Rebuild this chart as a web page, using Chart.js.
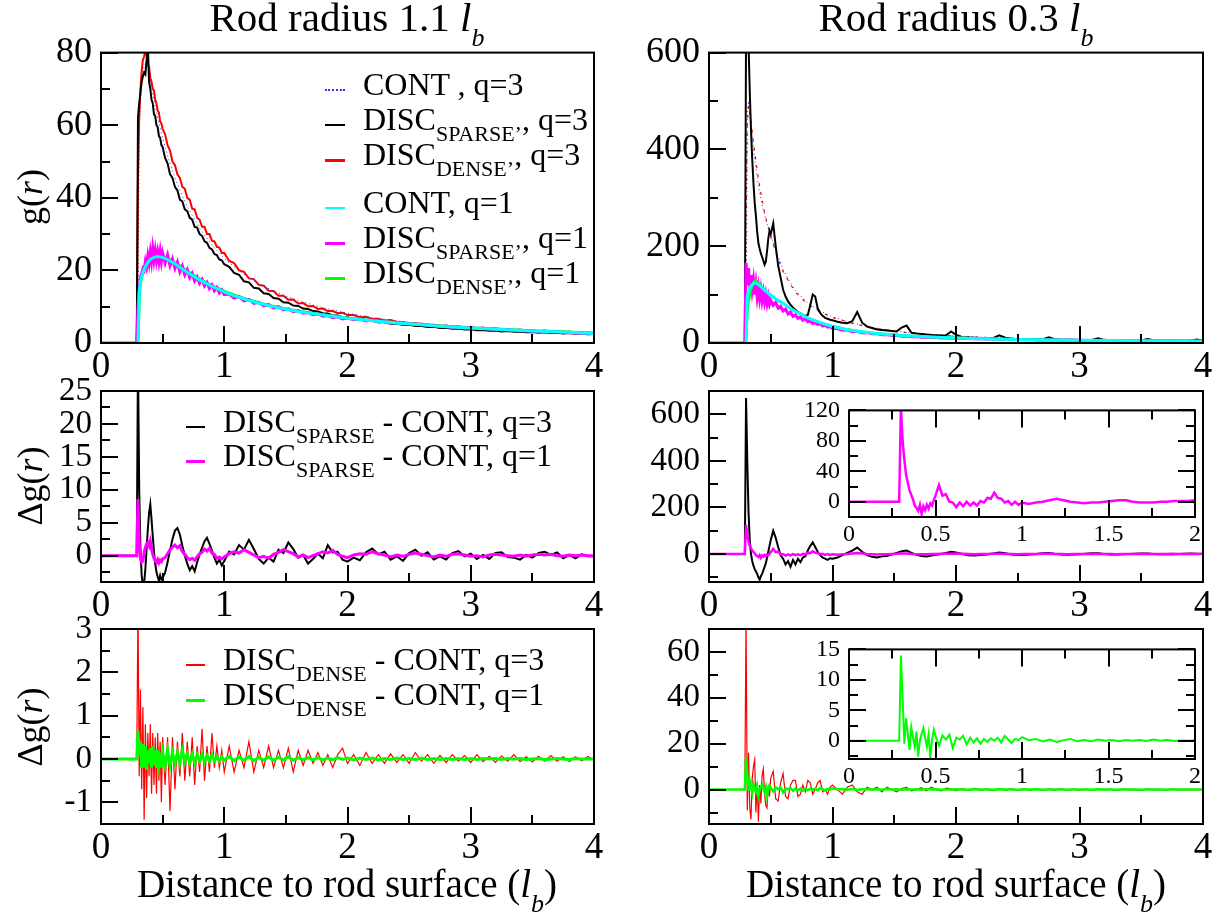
<!DOCTYPE html>
<html>
<head>
<meta charset="utf-8">
<script src="https://cdn.jsdelivr.net/npm/chart.js@4.4.1/dist/chart.umd.min.js"></script>
<style>
  body { margin: 0; background: #fff; width: 1225px; height: 915px; position: relative; overflow: hidden;
         font-family: "Liberation Serif", "Times New Roman", serif; color: #000; }
  canvas { position: absolute; }
  .t { position: absolute; white-space: nowrap; line-height: 1; }
  .sb { font-size: 22px; vertical-align: -11px; }
  .swatch { position: absolute; }
</style>
</head>
<body>
<canvas id="gA"></canvas>
<canvas id="gB"></canvas>
<canvas id="dsA"></canvas>
<canvas id="dsB"></canvas>
<canvas id="ddA"></canvas>
<canvas id="ddB"></canvas>
<canvas id="insS"></canvas>
<canvas id="insD"></canvas>
<div id="texts"></div>
<script>
// x grids (distance to rod surface, l_b)
const xFine = [0, 0.29,
  0.30, 0.31, 0.32, 0.33, 0.34, 0.35, 0.36, 0.37, 0.38, 0.39,
  0.40, 0.41, 0.42, 0.43, 0.44, 0.45, 0.46, 0.47, 0.48, 0.49,
  0.50, 0.52, 0.54, 0.56, 0.58, 0.60, 0.62, 0.64, 0.66, 0.68,
  0.70, 0.72, 0.74, 0.76, 0.78, 0.80, 0.82, 0.84, 0.86, 0.88,
  0.90, 0.92, 0.94, 0.96, 0.98, 1.00,
  1.04, 1.08, 1.12, 1.16, 1.20, 1.24, 1.28, 1.32, 1.36, 1.40,
  1.44, 1.48, 1.52, 1.56, 1.60, 1.64, 1.68, 1.72, 1.76, 1.80,
  1.84, 1.88, 1.92, 1.96, 2.00,
  2.05, 2.10, 2.15, 2.20, 2.25, 2.30, 2.35, 2.40, 2.45, 2.50,
  2.55, 2.60, 2.65, 2.70, 2.75, 2.80, 2.85, 2.90, 2.95, 3.00,
  3.05, 3.10, 3.15, 3.20, 3.25, 3.30, 3.35, 3.40, 3.45, 3.50,
  3.55, 3.60, 3.65, 3.70, 3.75, 3.80, 3.85, 3.90, 3.95, 4.00];
const xSmooth = [0, 0.29, 0.30, 0.31, 0.32, 0.34, 0.36, 0.38, 0.40, 0.43, 0.46, 0.50,
  0.55, 0.60, 0.65, 0.70, 0.80, 0.90, 1.00, 1.10, 1.20, 1.30, 1.40, 1.50, 1.60,
  1.80, 2.00, 2.20, 2.40, 2.60, 2.80, 3.00, 3.25, 3.50, 3.75, 4.00];

// g(r), rod radius 1.1
const gCont3A = [0, 0, 0, 58, 67, 75, 77, 76, 72, 67, 62, 56.5,
  50.5, 45.5, 41.3, 37.6, 31.6, 27, 23.3, 20.4, 18, 16, 14.3, 12.9, 11.7,
  9.7, 8.2, 7.0, 6.1, 5.4, 4.8, 4.3, 3.8, 3.4, 3.0, 2.7];
const gSparse3A = [0, 0,
  62, 66, 69, 72, 73.5, 74.5, 74, 78, 82, 72,
  70, 67, 66, 63, 62.5, 60, 59.5, 57, 56.5, 54.5,
  54, 51, 49.5, 46.5, 45.5, 43, 42, 39.5, 39, 36.8,
  36.3, 34.5, 34, 32, 31.8, 30, 29.5, 28, 27.6, 26.2,
  25.8, 24.5, 24.2, 23, 22.8, 21.7,
  21, 19.3, 18.8, 17, 16.7, 15.2, 15, 13.7, 13.5, 12.4,
  12.2, 11.2, 11.1, 10.3, 10.2, 9.5, 9.4, 8.8, 8.7, 8.2,
  8.1, 7.6, 7.6, 7.1, 7.1,
  6.6, 6.6, 6.1, 6.1, 5.7, 5.7, 5.3, 5.35, 4.95, 5.0,
  4.65, 4.7, 4.4, 4.45, 4.15, 4.2, 3.9, 4.0, 3.7, 3.8,
  3.5, 3.6, 3.35, 3.45, 3.2, 3.3, 3.1, 3.15, 2.95, 3.05,
  2.85, 2.95, 2.75, 2.85, 2.65, 2.75, 2.55, 2.65, 2.45, 2.55];
const gDense3A = [0, 0,
  45, 62, 70, 75, 78, 79, 80.5, 79, 77, 76,
  73, 72, 70, 69.5, 67, 66, 64, 63.5, 61, 60.5,
  59, 57.5, 54.5, 53, 50, 49, 46.5, 45.5, 43, 42.5,
  40, 39.5, 37, 36.8, 34.5, 34, 32, 32, 30, 30,
  28.2, 28, 26.5, 26.3, 24.8, 24.8,
  22.6, 22, 20, 19.6, 17.8, 17.6, 16, 15.8, 14.4, 14.3,
  13, 13, 11.9, 12, 10.9, 11, 10.1, 10.2, 9.4, 9.5,
  8.8, 8.8, 8.2, 8.3, 7.7,
  7.7, 7.1, 7.2, 6.6, 6.7, 6.2, 6.3, 5.8, 5.8, 5.4,
  5.5, 5.1, 5.1, 4.8, 4.8, 4.5, 4.6, 4.3, 4.3, 4.1,
  4.1, 3.9, 3.9, 3.7, 3.75, 3.55, 3.6, 3.4, 3.45, 3.3,
  3.3, 3.15, 3.2, 3.05, 3.1, 2.95, 3.0, 2.85, 2.9, 2.8];
const gCont1A = [null, null, 0, 14, 17, 19.5, 21, 22.2, 23, 23.6, 23.8, 23.6,
  22.8, 21.8, 20.6, 19.5, 17.4, 15.6, 14.1, 12.8, 11.7, 10.8, 10.0, 9.3, 8.7,
  7.7, 6.8, 6.1, 5.5, 5.0, 4.5, 4.1, 3.7, 3.3, 3.0, 2.6];
const gDense1A = [null, null, 0, 12, 16.5, 19.8, 21.6, 22.8, 23.5, 24.0, 24.1, 23.8,
  23.1, 22.1, 21.0, 19.8, 17.6, 15.8, 14.3, 13.0, 11.9, 10.9, 10.1, 9.4, 8.8,
  7.8, 6.9, 6.2, 5.6, 5.1, 4.6, 4.2, 3.8, 3.4, 3.1, 2.7];
const gSparse1A = [0, 0,
  10, 15, 18, 19, 20.5, 20, 22.5, 21, 24, 22,
  25, 22.5, 26, 23, 25.5, 22.8, 25, 22.5, 25.2, 22.5,
  24.8, 22, 24.3, 21.3, 23.2, 20.5, 22.3, 19.6, 21.2, 18.8,
  20.2, 18, 19.2, 17.1, 18.2, 16.4, 17.5, 15.7, 16.7, 15,
  16, 14.4, 15.3, 13.8, 14.6, 13.3,
  13.5, 12.4, 12.8, 11.6, 12, 10.9, 11.2, 10.2, 10.6, 9.6,
  10, 9.1, 9.4, 8.6, 8.9, 8.2, 8.4, 7.8, 8.0, 7.4,
  7.6, 7.0, 7.2, 6.6, 6.9,
  6.4, 6.6, 6.1, 6.3, 5.8, 6.0, 5.5, 5.7, 5.2, 5.4,
  5.0, 5.2, 4.8, 4.9, 4.5, 4.7, 4.3, 4.5, 4.1, 4.3,
  3.9, 4.1, 3.8, 3.9, 3.6, 3.7, 3.4, 3.6, 3.3, 3.4,
  3.1, 3.3, 3.0, 3.1, 2.8, 3.0, 2.7, 2.8, 2.5, 2.6];

// g(r), rod radius 0.3
const gCont3B = [0, 0, 0, 470, 500, 450, 400, 360, 325, 285, 255, 222,
  185, 152, 128, 108, 82, 66, 54, 46, 39, 33.5, 29, 25.3, 22.2,
  17.6, 14.4, 12, 10.2, 8.9, 7.8, 7, 6.2, 5.5, 5, 4.6];
const gDense3B = [0, 0, 250, 450, 490, 460, 415, 375, 340, 295, 258, 220,
  180, 148, 125, 105, 80, 64, 53, 45, 38, 32.5, 28, 24.5, 21.5,
  17, 14, 11.7, 10, 8.7, 7.6, 6.8, 6, 5.3, 4.8, 4.4];
const gSparse3B = [0, 0,
  640, 700, 620, 520, 440, 380, 330, 290, 262, 230,
  206, 195, 185, 178, 170, 162, 168, 190, 215, 232,
  225, 247, 200, 160, 135, 110, 96, 86, 79, 73,
  68, 64, 61, 58, 56, 58, 78, 100, 96, 72,
  62, 56, 52, 50, 48, 47,
  44, 42, 41, 45, 64, 42, 34, 31, 28, 27,
  26, 25, 24, 32, 36, 21, 19.5, 18.5, 17.5, 16.5,
  16, 15.5, 16, 24, 17,
  12, 11.5, 11, 10.5, 10, 10, 16, 11, 9, 8.5,
  8.2, 8, 7.7, 7.5, 12, 8, 7, 6.8, 6.6, 6.4,
  6.2, 6.1, 9.5, 6.5, 5.8, 5.6, 5.5, 5.4, 5.3, 5.2,
  8, 5.5, 5, 4.9, 4.8, 4.7, 4.6, 4.6, 7, 4.6];
const gCont1B = [null, null, 0, 95, 108, 118, 123, 124, 121, 114, 107, 98,
  89, 82, 73, 65, 52, 42, 34, 28.5, 24.3, 21, 18.5, 16.5, 14.8,
  12.2, 10.3, 8.9, 7.8, 6.9, 6.2, 5.6, 5.0, 4.5, 4.1, 3.8];
const gDense1B = [null, null, 0, 60, 85, 110, 125, 130, 125, 116, 108, 99,
  90, 82, 73, 65, 52, 42, 34.5, 29, 24.8, 21.4, 18.9, 16.9, 15.1,
  12.5, 10.6, 9.1, 8, 7.1, 6.4, 5.8, 5.2, 4.7, 4.3, 4];
const gSparse1B = [0, 0,
  165, 120, 155, 115, 140, 110, 130, 100, 122, 95,
  115, 92, 110, 88, 104, 85, 100, 82, 96, 80,
  88, 78, 84, 72, 76, 66, 70, 60, 64, 55,
  58, 51, 54, 47, 50, 44, 46, 40, 43, 38,
  40, 35, 37, 33, 34, 30,
  30, 26.5, 27, 23.5, 24, 21, 21.5, 19, 19.5, 17,
  17.5, 15.5, 16, 14, 14.5, 13, 13.3, 12, 12.3, 11.2,
  11.5, 10.5, 10.8, 9.8, 10,
  9.2, 9.5, 8.6, 8.9, 8.1, 8.4, 7.6, 7.9, 7.2, 7.4,
  6.8, 7.0, 6.4, 6.6, 6.1, 6.3, 5.8, 6.0, 5.5, 5.7,
  5.2, 5.4, 5.0, 5.2, 4.8, 5.0, 4.6, 4.8, 4.4, 4.6,
  4.2, 4.4, 4.1, 4.2, 3.9, 4.1, 3.8, 3.9, 3.6, 3.8];

// Delta g(r) = DISC_SPARSE - CONT
const dgSparse3A = [0, 0,
  30, 10, 1, -3, -4.5, -4.2, -2, 1, 4, 6.5,
  7.8, 5.5, 3, 0.5, -1.2, -2.5, -3.2, -3.8, -3, -3.6,
  -3.4, -2.6, -1, 0.8, 2.5, 3.8, 4.2, 3.2, 1.5, 0,
  -1.2, -2.2, -1.6, -2.4, -1, 0.2, 1.2, 2.2, 2.7, 1.8,
  0.8, -0.3, -1.2, -0.6, -1.5, -0.8,
  0.6, 0.2, 1.6, 0.9, 2.4, 1.0, -0.5, -1.2, -0.3, -0.9,
  0.9, 0.4, 2.0, 1.0, -0.3, 0.1, -1.2, -0.5, 0.3, -0.4,
  1.6, 0.5, 0.6, -0.6, -0.9,
  -0.3, -0.7, 0.5, 1.1, 0.2, 0.6, -0.6, -0.1, -0.8, 0.4,
  0.9, 0.0, 0.5, -0.6, -0.1, -0.6, 0.4, 0.7, -0.1, 0.3,
  -0.5, 0.1, -0.5, 0.4, 0.5, -0.2, -0.3, -0.6, 0.1, -0.3,
  0.4, 0.6, 0.1, 0.5, -0.4, 0.1, -0.4, 0.2, -0.1, -0.1];
const dgSparse1A = [0, 0,
  8.6, 2, -0.5, -1, -0.8, 0.5, 1.2, 1.8, 2.0, 1.5,
  2.2, 1.0, 0.2, -0.4, -0.8, -1.0, -0.6, -1.1, -0.7, -0.9,
  -0.5, -0.3, 0.3, 0.9, 1.3, 1.6, 1.2, 1.5, 0.6, 0.2,
  -0.3, -0.6, -0.4, -0.7, -0.2, 0.3, 0.5, 1.0, 0.7, 1.1,
  0.4, 0.2, -0.4, -0.2, -0.5, -0.2,
  0.3, 0.6, 0.4, 0.9, 0.5, 0.1, -0.3, -0.1, -0.4, 0.2,
  0.5, 0.9, 0.6, 0.3, -0.2, 0.1, -0.3, 0.0, 0.3, 0.6,
  0.4, 0.8, 0.2, -0.1, -0.3,
  0.1, 0.3, 0.2, 0.6, 0.3, 0.1, -0.2, 0.1, -0.1, 0.2,
  0.4, 0.2, 0.0, -0.2, 0.1, -0.1, 0.2, 0.3, 0.1, -0.1,
  0.0, -0.2, 0.1, 0.2, 0.1, 0.0, -0.1, 0.1, -0.1, 0.1,
  0.2, 0.1, 0.2, 0.0, -0.1, 0.1, 0.0, 0.1, 0.0, 0.0];
const dgSparse3B = [0, 0,
  670, 400, 180, 60, 0, -30, -50, -65, -75, -85,
  -100, -110, -95, -85, -70, -55, -40, -15, 10, 35,
  60, 100, 70, 30, -5, -20, -45, -30, -55, -25,
  -45, -20, -35, -15, -10, 15, 35, 50, 30, 10,
  -5, -15, -20, -25, -18, -20,
  -15, -5, 5, 15, 28, 10, -5, -12, -15, -10,
  -8, -2, 5, 12, 15, 5, -3, -8, -10, -6,
  -3, 0, 5, 10, 7,
  0, -5, -6, -4, -2, 2, 7, 3, -2, -4,
  -4, -2, 0, 3, 5, 1, -2, -3, -2, -1,
  1, 3, 3, 0, -2, -2, -1, 0, 1, 2,
  2, 0, -1, -1, -1, 0, 1, 2, 1, 0];
const dgSparse1B = [0, 0,
  125, 80, 55, 35, 25, 15, 9, 3, -5, -8,
  -12, -4, -16, -6, -11, -4, -9, -2, -5, 2,
  8, 22, 8, 10, 0, -1, -7, -1, -6, 0,
  -5, -1, -5, 1, -1, 5, 4, 12, 5, 4,
  -1, 1, -4, 0, -4, -1,
  -3, -1, 0, 2, 4, 2, 0, -1, -2, -1,
  -1, 0, 1, 2, 2, 0, -1, -1, -1, 0,
  0, 1, 1, 1, 2,
  1, 0, -1, 0, 0, 1, 1, 0, 0, -1,
  0, 0, 0, 1, 1, 0, 0, -1, 0, 0,
  0, 1, 0, 0, 0, -1, 0, 0, 0, 1,
  0, 0, 0, 0, 1, 0, 0, 0, 0, 1];

// Delta g(r) = DISC_DENSE - CONT
const dgDense3A = [0, 0,
  3.5, -0.4, 1.6, -0.7, 1.2, -1.4, 0.8, -0.9, 0.6, -0.4,
  0.8, -0.8, 0.6, -0.6, 0.5, -0.8, 0.6, -0.5, 0.4, -1.0,
  0.5, -0.6, 0.5, -1.2, 0.5, -0.7, 0.4, -0.4, 0.6, -0.5,
  0.4, -0.4, 0.5, -0.6, 0.3, -0.3, 0.7, -0.5, 0.3, -0.3,
  0.6, -0.2, 0.3, -0.2, 0.2, -0.3,
  0.3, -0.3, 0.2, -0.2, 0.4, -0.3, 0.2, -0.2, 0.3, -0.2,
  0.2, -0.2, 0.25, -0.3, 0.2, -0.15, 0.2, -0.1, 0.15, -0.15,
  0.1, -0.2, 0.1, 0.25, -0.1,
  0.1, -0.15, 0.15, -0.1, 0.1, -0.1, 0.12, -0.08, 0.1, -0.1,
  0.15, -0.05, 0.1, -0.1, 0.08, -0.08, 0.1, -0.05, 0.08, -0.08,
  0.1, -0.06, 0.06, -0.08, 0.07, -0.05, 0.1, -0.06, 0.05, -0.07,
  0.06, -0.05, 0.08, -0.05, 0.05, -0.06, 0.05, -0.04, 0.06, -0.03];
const dgDense1A = [0, 0,
  0.65, 0.1, 0.4, -0.2, 0.35, -0.2, 0.3, -0.25, 0.2, -0.1,
  0.25, -0.2, 0.3, -0.15, 0.2, -0.2, 0.2, -0.1, 0.15, -0.2,
  0.15, -0.15, 0.2, -0.15, 0.15, -0.1, 0.15, -0.1, 0.2, -0.05,
  0.12, -0.1, 0.1, -0.08, 0.1, -0.05, 0.1, -0.06, 0.08, -0.05,
  0.1, -0.04, 0.06, -0.05, 0.05, -0.03,
  0.06, -0.04, 0.05, -0.03, 0.06, -0.04, 0.04, -0.03, 0.05, -0.03,
  0.04, -0.02, 0.05, -0.03, 0.03, -0.02, 0.03, -0.02, 0.03, -0.02,
  0.02, -0.02, 0.03, -0.01, 0.02,
  -0.02, 0.02, -0.01, 0.02, -0.02, 0.01, -0.01, 0.02, -0.01, 0.01,
  -0.01, 0.02, -0.01, 0.01, -0.01, 0.01, -0.01, 0.01, -0.01, 0.01,
  -0.01, 0.01, 0, 0.01, -0.01, 0.01, 0, 0.01, -0.01, 0,
  0.01, -0.01, 0, 0.01, 0, -0.01, 0.01, 0, 0, 0];
const dgDense3B = [0, 0,
  75, -9, 16, -8, -13, 5, 10, 13, -10, 3,
  -14, 2, -6, 6, 9, -2, -7, -8, 2, -3,
  5, 8, -4, -5, 3, 7, -3, -4, 2, 4,
  4, -3, -2, 2, -1, 4, 3, -2, 0, 3,
  4, -1, 0, -2, 1, 2,
  0, -2, 1, 2, -1, -2, 1, 0, 1, -1,
  1, 0, -1, 0.5, 1, -0.5, 0, 0.8, -0.5, 1,
  0, -0.6, 0.6, 0.3, -0.4,
  0.4, -0.3, 0.5, -0.2, 0.3, -0.4, 0.4, -0.2, 0.3, -0.3,
  0.3, -0.2, 0.3, -0.3, 0.2, -0.2, 0.3, -0.2, 0.2, -0.2,
  0.2, -0.2, 0.2, -0.1, 0.2, -0.2, 0.2, -0.1, 0.1, -0.2,
  0.2, -0.1, 0.1, -0.1, 0.2, -0.1, 0.1, -0.1, 0.1, 0];
const dgDense1B = [0, 0,
  14, 7, -0.5, 3.7, 1, -1.5, 2.2, 0.5, -1, 1.5,
  -2.6, 0, 1.2, 2.1, 0.5, -1, 1, -2.9, 0.2, 1.8,
  0.8, -0.8, 0.9, 0.2, 1.0, -1.2, 0.5, 0.2, 0.8, -0.6,
  0.5, -0.3, 0.4, -0.5, 0.3, -0.2, 0.4, 0, 0.5, -0.3,
  0.8, 0.2, -0.4, 0.3, 0.1, 0.6,
  0.1, 0.3, -0.1, 0.2, -0.2, 0.1, 0.3, -0.1, 0.1, -0.1,
  0.2, 0, 0.1, -0.1, 0.1, 0, 0.1, -0.05, 0.2, 0,
  0.1, -0.05, 0.05, 0, 0.1,
  0.05, -0.05, 0.1, 0, 0.05, -0.05, 0.1, 0, 0.05, -0.05,
  0.05, 0, 0.1, -0.05, 0.05, 0, 0.05, -0.05, 0.05, 0,
  0.05, -0.05, 0.1, 0, 0.05, -0.05, 0.05, 0, 0.05, -0.05,
  0.05, 0, 0.05, -0.05, 0.05, 0, 0.05, 0, 0.05, 0.05];

// tick labels
const xTicks = [0, 1, 2, 3, 4];
const xMinor = [0.5, 1.5, 2.5, 3.5];
const insetXTicks = [0, 0.5, 1, 1.5, 2];
const insetXMinor = [0.25, 0.75, 1.25, 1.75];
const yTicksGA = [0, 20, 40, 60, 80], yMinorGA = [10, 30, 50, 70];
const yTicksGB = [0, 200, 400, 600], yMinorGB = [100, 300, 500];
const yTicksDsA = [0, 5, 10, 15, 20, 25], yMinorDsA = [-2.5, 2.5, 7.5, 12.5, 17.5, 22.5];
const yTicksDsB = [0, 200, 400, 600], yMinorDsB = [-100, 100, 300, 500];
const yTicksDdA = [-1, 0, 1, 2, 3], yMinorDdA = [-0.5, 0.5, 1.5, 2.5];
const yTicksDdB = [0, 20, 40, 60], yMinorDdB = [-10, 10, 30, 50];
const yTicksInsS = [0, 40, 80, 120], yMinorInsS = [-20, 20, 60, 100];
const yTicksInsD = [0, 5, 10, 15], yMinorInsD = [-2.5, 2.5, 7.5, 12.5];

// legend labels
const legendG = ['CONT , q=3', 'DISC<span class="sb">SPARSE’</span>, q=3', 'DISC<span class="sb">DENSE’</span>, q=3',
                 'CONT, q=1', 'DISC<span class="sb">SPARSE’</span>, q=1', 'DISC<span class="sb">DENSE’</span>, q=1'];
const legendDs = ['DISC<span class="sb">SPARSE</span> - CONT, q=3', 'DISC<span class="sb">SPARSE</span> - CONT, q=1'];
const legendDd = ['DISC<span class="sb">DENSE</span> - CONT, q=3', 'DISC<span class="sb">DENSE</span> - CONT, q=1'];

const FONT = '"Liberation Serif", "Times New Roman", serif';
const BLACK = '#000', RED = '#ff0000', GREEN = '#00ff00', MAGENTA = '#ff00ff', CYAN = '#00ffff', BLUE = '#3030ff';

// frame + inward ticks (xmgrace look)
const framePlugin = {
  id: 'frame',
  beforeDatasetsDraw(chart, args, o) {
    if (!o.fill) return;
    const a = chart.chartArea;
    chart.ctx.save();
    chart.ctx.fillStyle = '#fff';
    chart.ctx.fillRect(a.left, a.top, a.width, a.height);
    chart.ctx.restore();
  },
  afterDatasetsDraw(chart, args, o) {
    const { ctx, chartArea: a, scales } = chart;
    ctx.save();
    ctx.strokeStyle = '#000';
    ctx.lineWidth = 2;
    ctx.beginPath();
    const xm = (vals, len) => vals.forEach(v => {
      const p = Math.round(scales.x.getPixelForValue(v));
      ctx.moveTo(p, a.bottom); ctx.lineTo(p, a.bottom - len);
      if (o.all) { ctx.moveTo(p, a.top); ctx.lineTo(p, a.top + len); }
    });
    const ym = (vals, len) => vals.forEach(v => {
      const p = Math.round(scales.y.getPixelForValue(v));
      ctx.moveTo(a.left, p); ctx.lineTo(a.left + len, p);
      if (o.all) { ctx.moveTo(a.right, p); ctx.lineTo(a.right - len, p); }
    });
    xm(o.xMajor, 17); xm(o.xMinor, 9);
    ym(o.yMajor, 17); ym(o.yMinor, 9);
    ctx.stroke();
    ctx.strokeRect(a.left, a.top, a.width, a.height);
    ctx.restore();
  }
};

function line(xs, ys, color, width, dash) {
  return {
    data: xs.map((x, i) => ({ x: x, y: ys[i] })),
    borderColor: color, borderWidth: width, borderDash: dash || [],
    pointRadius: 0, showLine: true, fill: false, tension: 0, clip: 0, spanGaps: false
  };
}

function plot(id, box, m, c) {
  const cv = document.getElementById(id);
  cv.width = box.w + m.l + m.r;
  cv.height = box.h + m.t + m.b;
  cv.style.left = (box.x - m.l) + 'px';
  cv.style.top = (box.y - m.t) + 'px';
  const axis = (range, ticks, size, pad, horiz) => ({
    type: 'linear', min: range[0], max: range[1],
    grid: { display: false, drawTicks: false, tickLength: 0 },
    border: { display: false },
    ticks: { color: '#000', padding: pad, font: { family: FONT, size: size },
             maxRotation: 0, autoSkip: false, callback: v => String(v) },
    afterBuildTicks: s => { s.ticks = ticks.map(v => ({ value: v })); },
    afterFit: s => { if (horiz) s.height = m.b; else s.width = m.l; }
  });
  return new Chart(cv, {
    type: 'scatter',
    data: { datasets: c.sets },
    options: {
      responsive: false, animation: false, devicePixelRatio: 1, events: [],
      layout: { padding: { left: 0, top: m.t, right: m.r, bottom: 0 } },
      plugins: {
        legend: { display: false }, tooltip: { enabled: false },
        frame: { xMajor: c.xt, xMinor: c.xm, yMajor: c.yt, yMinor: c.ym, all: !!c.all, fill: !!c.fill }
      },
      scales: {
        x: axis(c.xr, c.xt, c.xs || 37, c.xp || 2, true),
        y: axis(c.yr, c.yt, c.ys || 33, 9, false)
      }
    },
    plugins: [framePlugin]
  });
}

const mainM = { l: 100, t: 30, r: 22, b: 55 };
const insetM = { l: 60, t: 15, r: 15, b: 35 };

// top row: g(r)
plot('gA', { x: 101, y: 52, w: 493, h: 291 }, mainM, {
  xr: [0, 4], xt: xTicks, xm: xMinor, yr: [0, 80], yt: yTicksGA, ym: yMinorGA, ys: 36,
  sets: [
    line(xSmooth, gCont1A, CYAN, 3),
    line(xFine, gSparse1A, MAGENTA, 3),
    line(xSmooth, gDense1A, GREEN, 3),
    line(xFine, gSparse3A, BLACK, 2),
    line(xSmooth, gCont3A, BLUE, 1, [1, 3]),
    line(xFine, gDense3A, RED, 2)
  ]
});
plot('gB', { x: 709, y: 52, w: 494, h: 291 }, mainM, {
  xr: [0, 4], xt: xTicks, xm: xMinor, yr: [0, 600], yt: yTicksGB, ym: yMinorGB, ys: 36,
  sets: [
    line(xSmooth, gCont1B, CYAN, 3),
    line(xSmooth, gDense1B, GREEN, 2.5),
    line(xFine, gSparse1B, MAGENTA, 3),
    line(xFine, gSparse3B, BLACK, 2),
    line(xSmooth, gCont3B, BLUE, 1, [1, 3]),
    line(xSmooth, gDense3B, RED, 1.2, [3, 6])
  ]
});

// middle row: DISC_SPARSE - CONT
plot('dsA', { x: 101, y: 391, w: 493, h: 191 }, mainM, {
  xr: [0, 4], xt: xTicks, xm: xMinor, yr: [-4, 25], yt: yTicksDsA, ym: yMinorDsA,
  sets: [line(xFine, dgSparse1A, MAGENTA, 3), line(xFine, dgSparse3A, BLACK, 2)]
});
plot('dsB', { x: 709, y: 391, w: 494, h: 191 }, mainM, {
  xr: [0, 4], xt: xTicks, xm: xMinor, yr: [-120, 700], yt: yTicksDsB, ym: yMinorDsB,
  sets: [line(xFine, dgSparse1B, MAGENTA, 2.5), line(xFine, dgSparse3B, BLACK, 2)]
});

// bottom row: DISC_DENSE - CONT
plot('ddA', { x: 101, y: 629, w: 493, h: 195 }, mainM, {
  xr: [0, 4], xt: xTicks, xm: xMinor, yr: [-1.5, 3], yt: yTicksDdA, ym: yMinorDdA,
  sets: [line(xFine, dgDense1A, GREEN, 3), line(xFine, dgDense3A, RED, 1.2)]
});
plot('ddB', { x: 709, y: 629, w: 494, h: 195 }, mainM, {
  xr: [0, 4], xt: xTicks, xm: xMinor, yr: [-15, 70], yt: yTicksDdB, ym: yMinorDdB,
  sets: [line(xFine, dgDense1B, GREEN, 2.5), line(xFine, dgDense3B, RED, 1.2)]
});

// insets
plot('insS', { x: 849, y: 402, w: 346, h: 115 }, insetM, {
  xr: [0, 2], xt: insetXTicks, xm: insetXMinor, yr: [-20, 120], yt: yTicksInsS, ym: yMinorInsS,
  xs: 24, ys: 24, xp: 3, all: true, fill: true,
  sets: [line(xFine, dgSparse1B, MAGENTA, 2.5)]
});
plot('insD', { x: 849, y: 641, w: 346, h: 118 }, insetM, {
  xr: [0, 2], xt: insetXTicks, xm: insetXMinor, yr: [-3, 15], yt: yTicksInsD, ym: yMinorInsD,
  xs: 24, ys: 24, xp: 3, all: true, fill: true,
  sets: [line(xFine, dgDense1B, GREEN, 2)]
});

// text: titles, axis titles, legends
const box = document.getElementById('texts');
function text(html, x, base, size, align, extra) {
  const d = document.createElement('div');
  d.className = 't';
  d.innerHTML = html;
  d.style.fontSize = size + 'px';
  d.style.left = x + 'px';
  d.style.top = (base - 0.84 * size) + 'px';
  if (align === 'center') d.style.transform = 'translateX(-50%)';
  if (extra) Object.assign(d.style, extra);
  box.appendChild(d);
  return d;
}
function vtext(html, cx, cy, size) {
  const d = document.createElement('div');
  d.className = 't';
  d.innerHTML = html;
  d.style.fontSize = size + 'px';
  d.style.left = cx + 'px';
  d.style.top = cy + 'px';
  d.style.transform = 'translate(-50%, -50%) rotate(-90deg)';
  box.appendChild(d);
}
function swatch(x1, x2, y, color, w, dotted) {
  const d = document.createElement('div');
  d.className = 'swatch';
  d.style.left = x1 + 'px';
  d.style.width = (x2 - x1) + 'px';
  if (dotted) {
    d.style.top = (y - 1) + 'px';
    d.style.borderTop = '2px dotted ' + color;
  } else {
    d.style.top = (y - w / 2) + 'px';
    d.style.height = w + 'px';
    d.style.background = color;
  }
  box.appendChild(d);
}

const sub = s => '<span style="font-size:26px;vertical-align:-15px"><i>' + s + '</i></span>';
text('Rod radius 1.1 <i>l</i>' + sub('b'), 347, 31, 41, 'center');
text('Rod radius 0.3 <i>l</i>' + sub('b'), 956, 31, 41, 'center');
text('Distance to rod surface (<i>l</i>' + sub('b') + ')', 347, 897, 39, 'center');
text('Distance to rod surface (<i>l</i>' + sub('b') + ')', 956, 897, 39, 'center');
vtext('g(<i>r</i>)', 30, 197, 36);
vtext('Δg(<i>r</i>)', 30, 486, 36);
vtext('Δg(<i>r</i>)', 30, 727, 36);

const colG = [BLUE, BLACK, RED, CYAN, MAGENTA, GREEN];
const wG = [2, 2, 3, 2, 3, 3];
const baseG = [95, 130, 165, 213, 248, 283];
legendG.forEach((s, i) => {
  swatch(325, 345, baseG[i] - 5, colG[i], wG[i], i === 0);
  text(s, 363, baseG[i], 32);
});
[[legendDs, [BLACK, MAGENTA], [432, 466]], [legendDd, [RED, GREEN], [670, 705]]].forEach(([labels, cols, bases]) => {
  labels.forEach((s, i) => {
    swatch(186, 205, bases[i] - 5, cols[i], i === 0 ? 2 : 3);
    text(s, 223, bases[i], 32);
  });
});
</script>
</body>
</html>
